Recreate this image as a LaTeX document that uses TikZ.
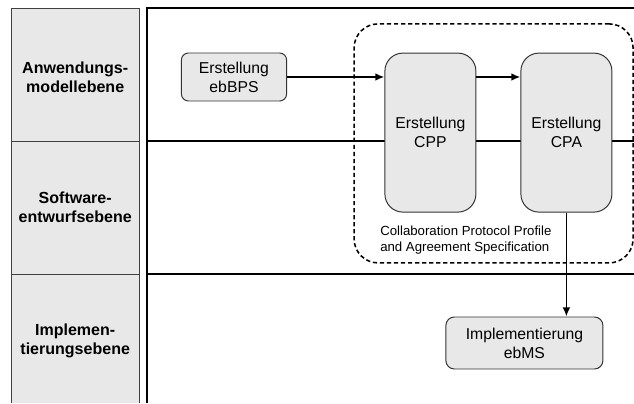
\documentclass[tikz,border=0pt]{standalone}
\usepackage{fontspec}
\setmainfont{Liberation Sans}
\usetikzlibrary{arrows.meta}
\tikzset{
  lanelabel/.style={align=center,font={\fontsize{11.4}{13.5}\selectfont\bfseries}},
  stepbox/.style={draw=black!80,fill=black!9,line width=0.7pt,align=center,inner sep=0pt,font={\fontsize{11.2}{13.5}\selectfont}},
  flowarrow/.style={-{Latex[length=6.5pt,width=5.5pt]},line width=1.2pt},
  lanerule/.style={line width=1.2pt}
}
\begin{document}
\begin{tikzpicture}
\useasboundingbox (0,0) rectangle (15.85,10.075);
% Ebenen links
\fill[black!9] (0.29,0) rectangle (3.475,9.875);
\draw[black!75,line width=0.7pt] (0.29,0) -- (0.29,9.875) -- (3.475,9.875) -- (3.475,0);
\draw[black!75,line width=0.7pt] (0.29,6.55) -- (3.475,6.55);
\draw[black!75,line width=0.7pt] (0.29,3.225) -- (3.475,3.225);
\node[lanelabel] (anwendung) at (1.88,8.15) {Anwendungs-\\modellebene};
\node[lanelabel] (software) at (1.88,4.89) {Software-\\entwurfsebene};
\node[lanelabel] (implement) at (1.88,1.55) {Implemen-\\tierungsebene};
% Bahnen rechts
\draw[lanerule] (3.675,0) -- (3.675,9.875) -- (15.85,9.875);
\draw[lanerule] (3.675,6.55) -- (15.85,6.55);
\draw[lanerule] (3.675,3.225) -- (15.85,3.225);
% CPPA-Rahmen
\node[draw,dashed,dash pattern=on 3pt off 2pt,line width=1.1pt,rounded corners=0.6cm,minimum width=6.975cm,minimum height=5.975cm] (cppa) at (12.34,6.49) {};
\node[anchor=west,align=left,inner sep=0pt,font={\fontsize{9.4}{11.4}\selectfont}] (cppalabel) at (9.5,4.075) {Collaboration Protocol Profile\\and Agreement Specification};
% Schritte
\node[stepbox,rounded corners=5pt,minimum width=2.63cm,minimum height=1.2cm] (ebbps) at (5.85,8.15) {Erstellung\\ebBPS};
\node[stepbox,rounded corners=0.45cm,minimum width=2.275cm,minimum height=3.975cm] (cpp) at (10.76,6.76) {Erstellung\\CPP};
\node[stepbox,rounded corners=0.45cm,minimum width=2.275cm,minimum height=3.975cm] (cpa) at (14.16,6.76) {Erstellung\\CPA};
\node[stepbox,rounded corners=6pt,minimum width=3.925cm,minimum height=1.3cm] (impl) at (13.11,1.5) {Implementierung\\ebMS};
% Pfeile
\draw[flowarrow] (ebbps.east) -- (ebbps.east -| cpp.west);
\draw[flowarrow] (cpp.east |- ebbps.east) -- (cpa.west |- ebbps.east);
\draw[flowarrow] (cpa.south) -- (cpa.south |- impl.north);
\end{tikzpicture}
\end{document}
